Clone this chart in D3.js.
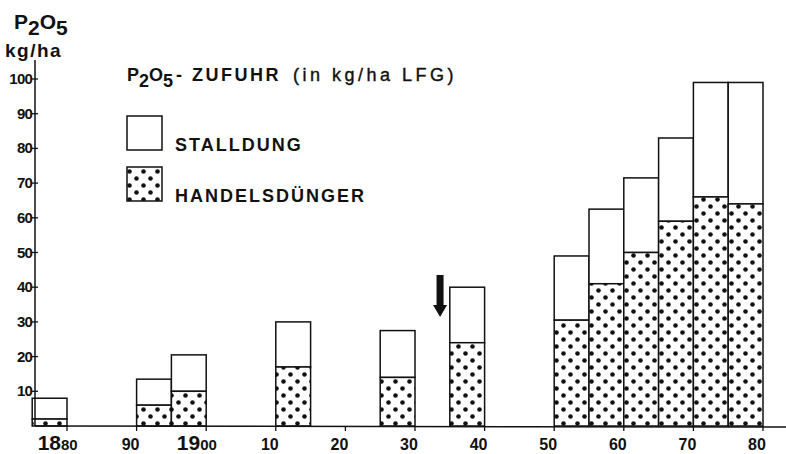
<!DOCTYPE html>
<html><head><meta charset="utf-8">
<script src="https://cdn.jsdelivr.net/npm/d3@7"></script>
<style>
html,body{margin:0;padding:0;background:#fff;}
svg{display:block;}
text{font-family:"Liberation Sans",Arial,sans-serif;fill:#111;}
</style></head>
<body>
<svg id="chart" width="786" height="454"></svg>
<script>
// ---- data ----
const periodStart = [1875, 1890, 1895, 1910, 1925, 1935, 1950, 1955, 1960, 1965, 1970, 1975];
const periodEnd   = [1880, 1895, 1900, 1915, 1930, 1940, 1955, 1960, 1965, 1970, 1975, 1980];
const handelsduenger = [2, 6, 10, 17, 14, 24, 30.5, 41, 50, 59, 66, 64];
const stalldung      = [6, 7.5, 10.5, 13, 13.5, 16, 18.5, 21.5, 21.5, 24, 33, 35];
const yTicks = [10, 20, 30, 40, 50, 60, 70, 80, 90, 100];
const yTickLabels = ["10", "20", "30", "40", "50", "60", "70", "80", "90", "100"];
const xTicks = [1880, 1890, 1900, 1910, 1920, 1930, 1940, 1950, 1960, 1970, 1980];
const xTickBig   = ["18", "", "19", "", "", "", "", "", "", "", ""];
const xTickSmall = ["80", "90", "00", "10", "20", "30", "40", "50", "60", "70", "80"];
const arrowYear = 1933.6;
const legendLabels = ["STALLDUNG", "HANDELSDÜNGER"];

const svg = d3.select("#chart");
const x = d3.scaleLinear().domain([1880, 1980]).range([67, 763]);
const y = d3.scaleLinear().domain([0, 100]).range([426, 79]);

// dot pattern
const defs = svg.append("defs");
const pat = defs.append("pattern").attr("id", "dots").attr("patternUnits", "userSpaceOnUse")
  .attr("width", 14).attr("height", 14);
pat.append("rect").attr("width", 14).attr("height", 14).attr("fill", "#fff");
pat.append("circle").attr("cx", 3.5).attr("cy", 3.5).attr("r", 2.3).attr("fill", "#111");
pat.append("circle").attr("cx", 10.5).attr("cy", 10.5).attr("r", 2.3).attr("fill", "#111");

const data = periodStart.map((s, i) => ({s, e: periodEnd[i], h: handelsduenger[i], st: stalldung[i]}));

// bars: stalldung on top
const g = svg.append("g");
g.selectAll("rect.st").data(data).join("rect").attr("class", "st")
  .attr("x", d => x(d.s)).attr("width", d => x(d.e) - x(d.s))
  .attr("y", d => y(d.h + d.st)).attr("height", d => y(d.h) - y(d.h + d.st))
  .attr("fill", "#fff").attr("stroke", "#111").attr("stroke-width", 1.5);
g.selectAll("rect.hd").data(data).join("rect").attr("class", "hd")
  .attr("x", d => x(d.s)).attr("width", d => x(d.e) - x(d.s))
  .attr("y", d => y(d.h)).attr("height", d => y(0) - y(d.h))
  .attr("fill", "url(#dots)").attr("stroke", "#111").attr("stroke-width", 1.5);

// axes
svg.append("line").attr("x1", 35).attr("x2", 35).attr("y1", 60).attr("y2", y(0))
  .attr("stroke", "#111").attr("stroke-width", 1.5);
svg.append("line").attr("x1", 35).attr("x2", 786).attr("y1", y(0)).attr("y2", y(0) + 1)
  .attr("stroke", "#111").attr("stroke-width", 1.5);

// y ticks
const yt = svg.append("g");
yTicks.forEach((v, i) => {
  yt.append("line").attr("x1", 32).attr("x2", 38).attr("y1", y(v)).attr("y2", y(v))
    .attr("stroke", "#111").attr("stroke-width", 1.3);
  yt.append("text").attr("x", 32).attr("y", y(v) + 5).attr("text-anchor", "end")
    .attr("font-size", 15).attr("font-weight", "bold").attr("letter-spacing", -0.8)
    .text(yTickLabels[i]);
});

// x ticks
const xt = svg.append("g");
xTicks.forEach((v, i) => {
  xt.append("line").attr("x1", x(v)).attr("x2", x(v)).attr("y1", y(0)).attr("y2", y(0) + 5)
    .attr("stroke", "#111").attr("stroke-width", 1.3);
  if (xTickBig[i]) {
    xt.append("text").attr("x", x(v) - 6).attr("y", 450).attr("text-anchor", "end")
      .attr("font-size", 21).attr("font-weight", "bold").text(xTickBig[i]);
    xt.append("text").attr("x", x(v) - 6).attr("y", 450).attr("text-anchor", "start")
      .attr("font-size", 15).attr("font-weight", "bold").text(xTickSmall[i]);
  } else {
    xt.append("text").attr("x", x(v) - 6).attr("y", 450).attr("text-anchor", "middle")
      .attr("font-size", 16).attr("font-weight", "bold").text(xTickSmall[i]);
  }
});

// y axis title
const yTitle = svg.append("text").attr("x", 14).attr("y", 29).attr("font-size", 21).attr("font-weight", "bold");
yTitle.append("tspan").text("P");
yTitle.append("tspan").attr("dy", 6).text("2");
yTitle.append("tspan").attr("dy", -6).text("O");
yTitle.append("tspan").attr("dy", 6).text("5");
svg.append("text").attr("x", 5).attr("y", 57).attr("font-size", 19).attr("font-weight", "bold")
  .attr("letter-spacing", 1.5).text("kg/ha");

// legend title
const lt = svg.append("text").attr("x", 127).attr("y", 81).attr("font-size", 18).attr("font-weight", "bold");
lt.append("tspan").text("P");
lt.append("tspan").attr("dy", 6).text("2");
lt.append("tspan").attr("dy", -6).text("O");
lt.append("tspan").attr("dy", 6).text("5");
lt.append("tspan").attr("dy", -6).attr("dx", 3).attr("letter-spacing", 2.5).text("- ZUFUHR");
lt.append("tspan").attr("dx", 12).attr("letter-spacing", 3.5).attr("font-weight", "normal")
  .attr("stroke", "#111").attr("stroke-width", 0.4).text("(in kg/ha  LFG)");

// legend boxes
const legY = [116, 167];
legendLabels.forEach((lab, i) => {
  svg.append("rect").attr("x", 127).attr("y", legY[i]).attr("width", 35).attr("height", 34)
    .attr("fill", i === 0 ? "#fff" : "url(#dots)").attr("stroke", "#111").attr("stroke-width", 1.5);
  svg.append("text").attr("x", 175).attr("y", legY[i] + 35).attr("font-size", 18)
    .attr("font-weight", "bold").attr("letter-spacing", 2).text(lab);
});

// arrow
const ax = x(arrowYear);
svg.append("rect").attr("x", ax - 3.5).attr("y", 275).attr("width", 7).attr("height", 32).attr("fill", "#111");
svg.append("path").attr("d", `M${ax - 7},305 L${ax + 7},305 L${ax},317 Z`).attr("fill", "#111");
</script>
</body></html>
